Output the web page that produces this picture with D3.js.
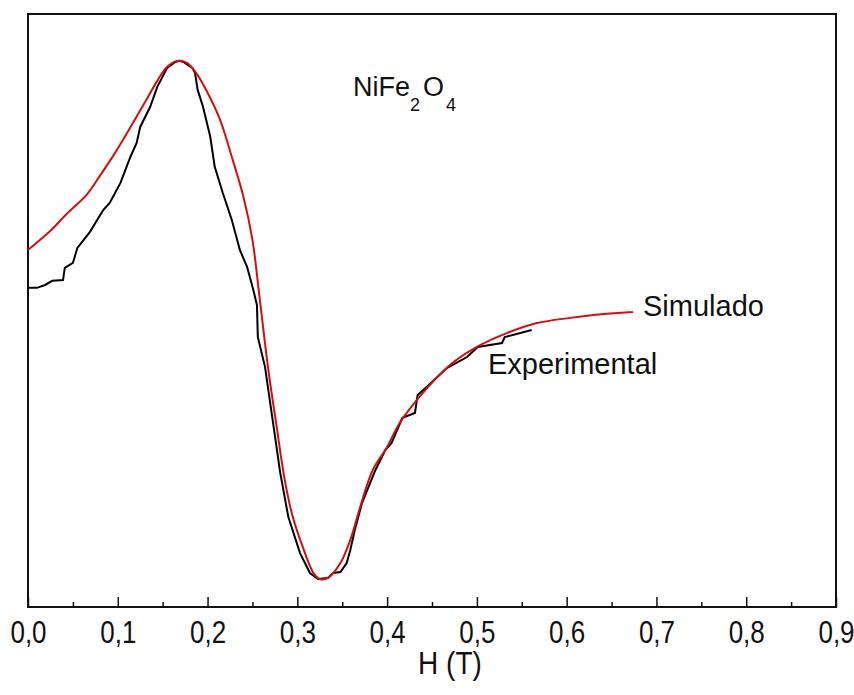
<!DOCTYPE html>
<html>
<head>
<meta charset="utf-8">
<script src="https://cdn.jsdelivr.net/npm/d3@7"></script>
<style>
  body { margin: 0; background: #fff; }
  text { font-family: "Liberation Sans", Arial, sans-serif; fill: #111; }
</style>
</head>
<body>
<div id="chart"></div>
<script>
// field H in tesla, signal in normalized arbitrary units
var simX = [0.000, 0.025, 0.043, 0.066, 0.080, 0.097, 0.117, 0.133, 0.144, 0.155,
            0.166, 0.177, 0.188, 0.203, 0.214, 0.228, 0.240, 0.250, 0.258, 0.267,
            0.277, 0.286, 0.295, 0.306, 0.318, 0.325, 0.334, 0.348, 0.359, 0.370,
            0.384, 0.400, 0.414, 0.437, 0.470, 0.500, 0.534, 0.567, 0.604, 0.641,
            0.674];
var simY = [0.270, 0.344, 0.409, 0.486, 0.556, 0.645, 0.761, 0.857, 0.923, 0.977,
            1.000, 0.992, 0.950, 0.857, 0.772, 0.618, 0.475, 0.309, 0.085, -0.174,
            -0.413, -0.618, -0.761, -0.876, -0.977, -1.000, -0.996, -0.938, -0.849, -0.722,
            -0.579, -0.490, -0.398, -0.293, -0.174, -0.104, -0.050, -0.012, 0.008, 0.023,
            0.031];

var expX = [0.000, 0.010, 0.019, 0.027, 0.039, 0.041, 0.050, 0.055, 0.069, 0.084,
            0.091, 0.103, 0.114, 0.121, 0.125, 0.136, 0.144, 0.155, 0.164, 0.169,
            0.173, 0.183, 0.186, 0.189, 0.195, 0.203, 0.208, 0.217, 0.227, 0.236,
            0.244, 0.251, 0.255, 0.256, 0.264, 0.273, 0.281, 0.290, 0.303, 0.314,
            0.323, 0.334, 0.340, 0.348, 0.355, 0.359, 0.364, 0.372, 0.387, 0.398,
            0.405, 0.417, 0.431, 0.434, 0.444, 0.467, 0.489, 0.501, 0.528, 0.531,
            0.561];
var expY = [0.124, 0.124, 0.135, 0.151, 0.154, 0.201, 0.220, 0.278, 0.340, 0.425,
            0.452, 0.529, 0.629, 0.683, 0.745, 0.822, 0.900, 0.973, 0.996, 1.000,
            0.996, 0.973, 0.954, 0.888, 0.822, 0.707, 0.591, 0.490, 0.386, 0.270,
            0.205, 0.116, 0.058, -0.066, -0.181, -0.398, -0.591, -0.761, -0.900, -0.977,
            -1.000, -0.996, -0.977, -0.973, -0.938, -0.888, -0.811, -0.707, -0.579, -0.502,
            -0.475, -0.378, -0.359, -0.290, -0.259, -0.185, -0.143, -0.104, -0.089, -0.066,
            -0.039];

var xTicks = [0, 0.1, 0.2, 0.3, 0.4, 0.5, 0.6, 0.7, 0.8, 0.9];
var xMinor = [0.05, 0.15, 0.25, 0.35, 0.45, 0.55, 0.65, 0.75, 0.85];

var W = 854, H = 695;
var margin = {left: 28, right: 18, top: 14, bottom: 88};
var width = W - margin.left - margin.right;
var height = H - margin.top - margin.bottom;

var svg = d3.select("#chart").append("svg")
    .attr("width", W).attr("height", H)
    .append("g")
    .attr("transform", "translate(" + margin.left + "," + margin.top + ")");

var x = d3.scaleLinear().domain([0, 0.9]).range([0, width]);
var y = d3.scaleLinear().domain([-1.108, 1.181]).range([height, 0]);

// minor ticks
svg.append("g")
    .attr("transform", "translate(0," + height + ")")
    .call(d3.axisBottom(x).tickValues(xMinor).tickSize(-5).tickFormat(""))
    .call(g => g.select(".domain").remove())
    .selectAll("line").attr("stroke", "#111").attr("stroke-width", 1.5);

// major ticks + labels (labels drawn a bit tall, like the original)
var xAxis = svg.append("g")
    .attr("transform", "translate(0," + height + ")")
    .call(d3.axisBottom(x).tickValues(xTicks).tickSize(-10)
        .tickFormat(d => d3.format(".1f")(d).replace(".", ",")));
xAxis.select(".domain").remove();
xAxis.selectAll("line").attr("stroke", "#111").attr("stroke-width", 1.5);
xAxis.selectAll("text")
    .attr("y", 0).attr("dy", 0)
    .attr("transform", "translate(0,36) scale(1,1.2)")
    .attr("font-size", "26px")
    .attr("font-family", "Liberation Sans, Arial, sans-serif")
    .attr("fill", "#111");

// frame
svg.append("rect")
    .attr("x", 0).attr("y", 0)
    .attr("width", width).attr("height", height)
    .attr("fill", "none").attr("stroke", "#111").attr("stroke-width", 2);

var simLine = d3.line()
    .x((d, i) => x(simX[i])).y(d => y(d))
    .curve(d3.curveCatmullRom);
var expLine = d3.line()
    .x((d, i) => x(expX[i])).y(d => y(d));

svg.append("path").datum(expY)
    .attr("d", expLine)
    .attr("fill", "none").attr("stroke", "#000").attr("stroke-width", 2);

svg.append("path").datum(simY)
    .attr("d", simLine)
    .attr("fill", "none").attr("stroke", "#d01010").attr("stroke-width", 2);

// labels
var formula = svg.append("text")
    .attr("x", 325).attr("y", 82)
    .attr("font-size", "27px");
formula.append("tspan").text("NiFe");
formula.append("tspan").attr("font-size", "18px").attr("dy", 15).text("2");
formula.append("tspan").attr("dy", -15).attr("dx", 3).text("O");
formula.append("tspan").attr("font-size", "18px").attr("dy", 15).attr("dx", 2).text("4");

svg.append("text").attr("x", 615).attr("y", 302)
    .attr("font-size", "29px").text("Simulado");
svg.append("text").attr("x", 460).attr("y", 360)
    .attr("font-size", "29px").text("Experimental");

svg.append("text")
    .attr("transform", "translate(" + x(0.47) + "," + (height + 67) + ") scale(1,1.1)")
    .attr("text-anchor", "middle")
    .attr("font-size", "28px")
    .text("H (T)");
</script>
</body>
</html>
